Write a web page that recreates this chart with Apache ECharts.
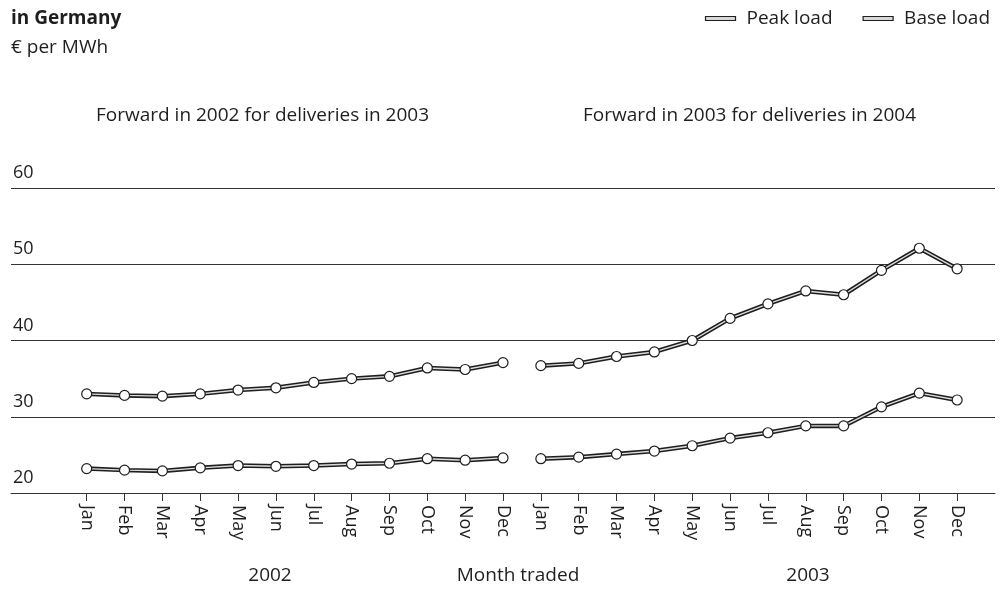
<!DOCTYPE html>
<html>
<head>
<meta charset="utf-8">
<title>Forward electricity prices in Germany</title>
<script src="https://cdn.jsdelivr.net/npm/echarts@6/dist/echarts.min.js"></script>
<style>
  html, body { margin: 0; padding: 0; background: #fff; }
  #chart { width: 1005px; height: 609px; }
</style>
</head>
<body>
<div id="chart"></div>
<script>
// Month labels (repeated for both trading years)
var months = ['Jan', 'Feb', 'Mar', 'Apr', 'May', 'Jun', 'Jul', 'Aug', 'Sep', 'Oct', 'Nov', 'Dec'];
var yTicks = [20, 30, 40, 50, 60];

// Forward prices, € per MWh, by month traded
var peak2002 = [33.0, 32.8, 32.7, 33.0, 33.5, 33.8, 34.5, 35.0, 35.3, 36.4, 36.2, 37.1];
var peak2003 = [36.7, 37.0, 37.9, 38.5, 40.0, 42.9, 44.8, 46.5, 46.0, 49.2, 52.1, 49.4];
var base2002 = [23.2, 23.0, 22.9, 23.3, 23.6, 23.5, 23.6, 23.8, 23.9, 24.5, 24.3, 24.6];
var base2003 = [24.5, 24.7, 25.1, 25.5, 26.2, 27.2, 27.9, 28.8, 28.8, 31.3, 33.1, 32.2];

var FONT = '"Open Sans", "DejaVu Sans", sans-serif';
var INK = '#1e1e1e';

// month index on a continuous axis: 0..11 = 2002, 12..23 = 2003
function toPoints(values, offset) {
  return values.map(function (v, i) { return [i + offset, v]; });
}

var tickIdx = [];
for (var i = 0; i < 24; i++) { tickIdx.push(i); }

// each segment is drawn twice: a dark wide stroke and a pale inner stroke
function segment(name, values, offset) {
  var pts = toPoints(values, offset);
  return [
    {
      name: name,
      type: 'line',
      data: pts,
      symbol: 'none',
      lineStyle: { color: INK, width: 4.5 },
      itemStyle: { color: INK },
      z: 2,
      silent: true
    },
    {
      name: name + ' inner',
      type: 'line',
      data: pts,
      symbol: 'circle',
      symbolSize: 10,
      lineStyle: { color: '#dcdcdc', width: 1.4 },
      itemStyle: { color: '#fff', borderColor: INK, borderWidth: 1.2 },
      z: 3,
      silent: true
    }
  ];
}

var series = []
  .concat(segment('Peak load', peak2002, 0))
  .concat(segment('Peak load', peak2003, 12))
  .concat(segment('Base load', base2002, 0))
  .concat(segment('Base load', base2003, 12));

var chart = echarts.init(document.getElementById('chart'), null, { renderer: 'canvas' });

var option = {
  animation: false,
  backgroundColor: '#fff',
  textStyle: { fontFamily: FONT, color: INK },
  title: [
    {
      text: 'in Germany',
      left: 6, top: 4,
      textStyle: { fontFamily: FONT, fontSize: 19, fontWeight: 'bold', color: INK }
    },
    {
      text: '€ per MWh',
      left: 6, top: 33,
      textStyle: { fontFamily: FONT, fontSize: 19, fontWeight: 'normal', color: INK }
    }
  ],
  legend: {
    right: 10, top: 4,
    itemWidth: 30, itemHeight: 4,
    itemGap: 30,
    textStyle: { fontFamily: FONT, fontSize: 19, color: INK, padding: [0, 0, 0, 6] },
    data: [
      { name: 'Peak load', icon: 'rect', itemStyle: { color: '#d8d8d8', borderColor: INK, borderWidth: 1.2 } },
      { name: 'Base load', icon: 'rect', itemStyle: { color: '#d8d8d8', borderColor: INK, borderWidth: 1.2 } }
    ],
    selectedMode: false
  },
  grid: { left: 11, right: 10, top: 188, bottom: 116, containLabel: false },
  xAxis: {
    type: 'value',
    min: -2,
    max: 24,
    axisLine: { show: true, lineStyle: { color: '#333', width: 1 } },
    axisTick: { show: true, customValues: tickIdx, length: 8, lineStyle: { color: '#333' } },
    axisLabel: {
      customValues: tickIdx,
      rotate: -90,
      margin: 12,
      fontFamily: FONT,
      fontSize: 18,
      color: INK,
      formatter: function (v) { return months[v % 12]; }
    },
    splitLine: { show: false }
  },
  yAxis: {
    type: 'value',
    min: yTicks[0],
    max: yTicks[yTicks.length - 1],
    interval: 10,
    axisLine: { show: false },
    axisTick: { show: false },
    axisLabel: {
      inside: true,
      margin: 2,
      align: 'left',
      verticalAlign: 'bottom',
      padding: [0, 0, 6, 0],
      fontFamily: FONT,
      fontSize: 18,
      color: INK
    },
    splitLine: { show: true, lineStyle: { color: '#333', width: 1 } }
  },
  graphic: [
    { type: 'text', left: 96, top: 106, style: { text: 'Forward in 2002 for deliveries in 2003', font: '19px ' + FONT, fill: INK } },
    { type: 'text', left: 583, top: 106, style: { text: 'Forward in 2003 for deliveries in 2004', font: '19px ' + FONT, fill: INK } },
    { type: 'text', x: 270, y: 566, style: { text: '2002', font: '19px ' + FONT, fill: INK, align: 'center' } },
    { type: 'text', x: 518, y: 566, style: { text: 'Month traded', font: '19px ' + FONT, fill: INK, align: 'center' } },
    { type: 'text', x: 808, y: 566, style: { text: '2003', font: '19px ' + FONT, fill: INK, align: 'center' } }
  ],
  series: series
};

chart.setOption(option);
</script>
</body>
</html>
